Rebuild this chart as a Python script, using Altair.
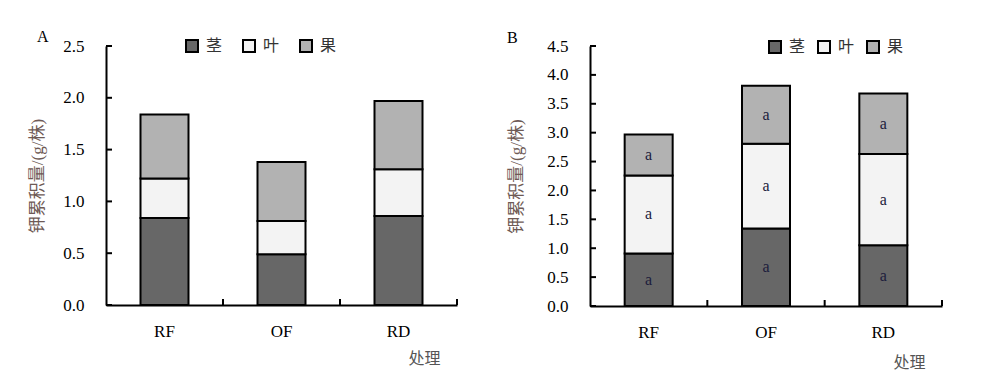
import altair as alt
import pandas as pd

categories = ["RF", "OF", "RD"]
parts = ["茎", "叶", "果"]

a_stem = [0.84, 0.49, 0.86]
a_leaf = [0.38, 0.32, 0.45]
a_fruit = [0.62, 0.57, 0.66]

b_stem = [0.91, 1.34, 1.05]
b_leaf = [1.35, 1.47, 1.58]
b_fruit = [0.71, 1.00, 1.05]
b_letters = [["a", "a", "a"], ["a", "a", "a"], ["a", "a", "a"]]

a_ticks = [0.0, 0.5, 1.0, 1.5, 2.0, 2.5]
b_ticks = [0.0, 0.5, 1.0, 1.5, 2.0, 2.5, 3.0, 3.5, 4.0, 4.5]

fills = ["#676767", "#f3f3f3", "#b2b2b2"]
SERIF = "Times New Roman, Liberation Serif, Noto Sans CJK SC"
YTITLE = "钾累积量/(g/株)"


def build_df(stem, leaf, fruit, letters=None):
    rows = []
    for i, c in enumerate(categories):
        base = 0.0
        for j, (p, vals) in enumerate(zip(parts, [stem, leaf, fruit])):
            v = vals[i]
            rows.append({"cat": c, "part": p, "value": v, "ord": j,
                         "mid": base + v / 2,
                         "lab": letters[j][i] if letters else ""})
            base += v
    return pd.DataFrame(rows)


def panel(stem, leaf, fruit, ticks, letter, W, H, legend_x, legend_y, col_pad,
          ytitle_x, xtitle_x, xtitle_y, title_dx, title_dy, letters=None):
    df = build_df(stem, leaf, fruit, letters)
    ymax = ticks[-1]
    yscale = alt.Scale(domain=[0, ymax], nice=False, zero=True)
    xscale = alt.Scale(paddingInner=0, paddingOuter=0)
    xsort = categories

    xaxis = alt.Axis(title="处理", labelAngle=0, labelFont=SERIF, labelFontSize=17,
                     labelColor="black", labelPadding=18, ticks=False,
                     domainColor="black", domainWidth=2,
                     titleFont=SERIF, titleFontSize=16, titleFontWeight="normal",
                     titleColor="#555555", titleX=xtitle_x, titleY=xtitle_y,
                     titleAlign="center", titleBaseline="middle")
    yaxis = alt.Axis(values=ticks, format=".1f", grid=False, ticks=False,
                     labelOverlap=False,
                     labelFont=SERIF, labelFontSize=17, labelColor="black",
                     labelPadding=22, domainColor="black", domainWidth=2,
                     title=YTITLE, titleFont=SERIF, titleFontSize=17,
                     titleFontWeight="normal", titleColor="#6e5a55",
                     titleAngle=270, titleX=ytitle_x, titleY=H / 2,
                     titleAlign="center", titleBaseline="middle")

    bars = alt.Chart(df).mark_bar(size=48, stroke="black", strokeWidth=2).encode(
        x=alt.X("cat:N", sort=xsort, scale=xscale, axis=xaxis),
        y=alt.Y("value:Q", stack="zero", scale=yscale, axis=yaxis),
        fill=alt.Fill("part:N", scale=alt.Scale(domain=parts, range=fills),
                      legend=alt.Legend(orient="none", legendX=legend_x, legendY=legend_y,
                                        direction="horizontal", title=None,
                                        symbolType="square", symbolSize=144,
                                        symbolStrokeColor="black", symbolStrokeWidth=2,
                                        labelFont=SERIF, labelFontSize=16,
                                        labelColor="#333333", labelOffset=6,
                                        columnPadding=col_pad)),
        order=alt.Order("ord:Q"),
    )

    tdf = pd.DataFrame({"v": ticks})
    yt = alt.Chart(tdf).mark_rule(color="black", strokeWidth=2).encode(
        y=alt.Y("v:Q", scale=yscale, axis=yaxis, title=YTITLE),
        x=alt.value(0), x2=alt.value(6))

    cdf = pd.DataFrame({"cat": categories})
    xt = alt.Chart(cdf).mark_rule(color="black", strokeWidth=2).encode(
        x=alt.X("cat:N", sort=xsort, scale=xscale, bandPosition=1, axis=xaxis),
        y=alt.value(H), y2=alt.value(H - 6))

    layers = [bars, yt, xt]
    if letters:
        txt = alt.Chart(df).mark_text(font=SERIF, fontSize=16, color="#1c1c3c").encode(
            x=alt.X("cat:N", sort=xsort, scale=xscale, axis=xaxis),
            y=alt.Y("mid:Q", scale=yscale, axis=yaxis), text="lab:N")
        layers.append(txt)

    return alt.layer(*layers).properties(
        width=W, height=H,
        title=alt.TitleParams(letter, anchor="start", frame="group", dx=title_dx,
                              dy=title_dy, offset=3,
                              font=SERIF, fontSize=16, fontWeight="normal", color="black"),
    )


pa = panel(a_stem, a_leaf, a_fruit, a_ticks, "A", 351, 259, 78, -8, 16,
           -69, 318, 53, -69, 11)
pb = panel(b_stem, b_leaf, b_fruit, b_ticks, "B", 352, 260, 177, -7, 8,
           -74, 319, 56, -83, 12, letters=b_letters)

chart = alt.hconcat(pa, pb, spacing=49).resolve_scale(
    fill="independent", x="independent", y="independent"
).resolve_legend(fill="independent").configure_view(stroke=None).properties(
    padding={"left": 20, "top": 21, "right": 5, "bottom": 5})

chart.save("out.html", embed_options={"renderer": "svg", "actions": False})
